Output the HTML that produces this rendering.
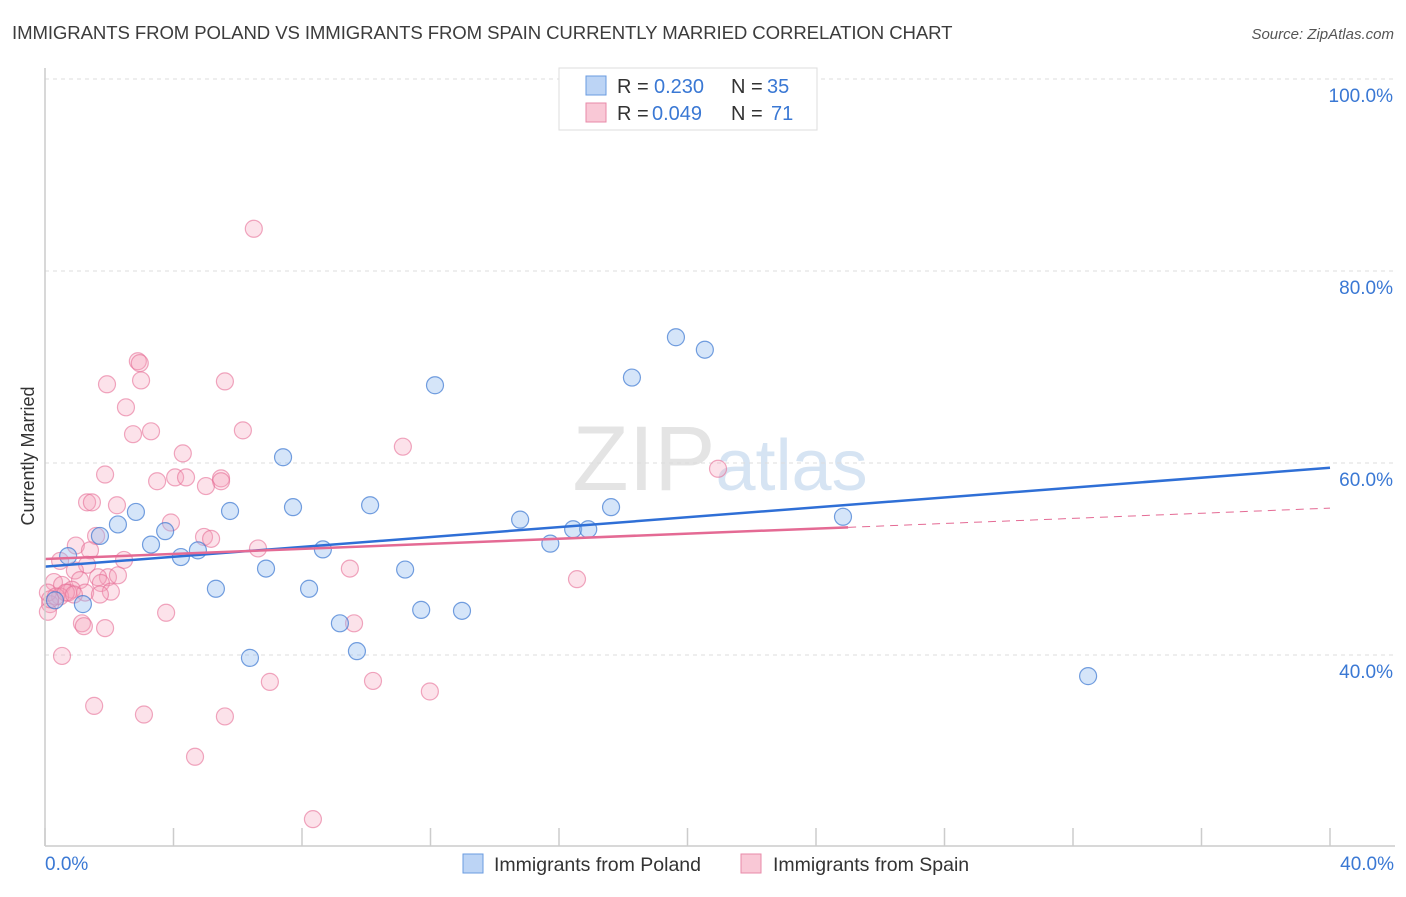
<!DOCTYPE html>
<html><head><meta charset="utf-8">
<style>
body{margin:0;background:#fff;font-family:"Liberation Sans",sans-serif;}
svg text{font-family:"Liberation Sans",sans-serif;}
</style></head>
<body>
<svg id="chart" width="1406" height="892" xmlns="http://www.w3.org/2000/svg">
<text x="12" y="39" font-size="18.6" fill="#3c3c3c" letter-spacing="-0.1">IMMIGRANTS FROM POLAND VS IMMIGRANTS FROM SPAIN CURRENTLY MARRIED CORRELATION CHART</text>
<text x="1394" y="39" font-size="15" fill="#555" text-anchor="end" font-style="italic">Source: ZipAtlas.com</text>
<text transform="translate(34,456) rotate(-90)" font-size="18" fill="#333" text-anchor="middle">Currently Married</text>
<text x="720" y="490" font-size="92" fill="#e4e4e4" text-anchor="middle" font-family="Liberation Serif">ZIP<tspan fill="#d6e4f3" font-family="Liberation Sans" font-size="72">atlas</tspan></text>
<g id="grid"></g>
<g id="marks"></g>
<line x1="45" y1="68" x2="45" y2="846" stroke="#ccc" stroke-width="1.5"/>
<line x1="45" y1="846" x2="1395" y2="846" stroke="#ccc" stroke-width="1.5"/>
<text x="45" y="870" font-size="19" fill="#3a78d4">0.0%</text>
<text x="1394" y="870" font-size="19" fill="#3a78d4" text-anchor="end">40.0%</text>
<g>
<rect x="559" y="68" width="258" height="62" fill="#fff" stroke="#ddd"/>
<rect x="586" y="76" width="20" height="19" fill="#bcd4f5" stroke="#6a9be0"/>
<rect x="586" y="103" width="20" height="19" fill="#f9c8d6" stroke="#e88aa8"/>
<text x="617" y="93" font-size="20" fill="#333">R =</text>
<text x="654" y="93" font-size="20" fill="#3a78d4">0.230</text>
<text x="731" y="93" font-size="20" fill="#333">N =</text>
<text x="767" y="93" font-size="20" fill="#3a78d4">35</text>
<text x="617" y="120" font-size="20" fill="#333">R =</text>
<text x="652" y="120" font-size="20" fill="#3a78d4">0.049</text>
<text x="731" y="120" font-size="20" fill="#333">N =</text>
<text x="771" y="120" font-size="20" fill="#3a78d4">71</text>
</g>
<g>
<rect x="463" y="854" width="20" height="19" fill="#bcd4f5" stroke="#6a9be0"/>
<text x="494" y="871" font-size="19.5" fill="#333">Immigrants from Poland</text>
<rect x="741" y="854" width="20" height="19" fill="#f9c8d6" stroke="#e88aa8"/>
<text x="773" y="871" font-size="19.5" fill="#333">Immigrants from Spain</text>
</g>
</svg>
<script>
const yTicks=[40,60,80,100];
const xTicks=[0,4,8,12,16,20,24,28,32,36,40];
const polandX=[0.72,1.71,2.27,2.83,3.3,3.74,4.23,4.76,5.32,5.76,6.38,6.88,7.41,7.72,8.22,8.65,9.18,9.71,10.12,11.21,11.71,12.14,12.98,14.79,15.73,16.44,16.91,17.62,18.27,19.64,20.54,24.84,32.47,1.18,0.31];
const polandY=[50.3,52.4,53.6,54.9,51.5,52.9,50.2,50.9,46.9,55.0,39.7,49.0,60.6,55.4,46.9,51.0,43.3,40.4,55.6,48.9,44.7,68.1,44.6,54.1,51.6,53.1,53.1,55.4,68.9,73.1,71.8,54.4,37.8,45.3,45.7];
const spainX=[6.5,2.89,2.95,1.93,2.99,5.6,2.52,3.3,2.74,6.16,11.14,4.29,1.87,20.95,3.49,4.05,4.39,5.48,5.48,5.01,1.31,1.46,2.24,3.92,1.59,4.95,5.17,0.96,1.4,6.63,2.46,0.47,1.31,0.93,9.49,1.96,1.65,2.27,1.09,1.74,16.56,0.28,0.53,0.84,1.25,0.72,2.05,1.71,0.47,0.16,0.09,3.77,1.15,1.21,1.87,9.62,0.53,1.53,3.08,5.6,7.0,10.21,11.98,4.67,8.34,0.09,0.34,0.65,0.9,0.16];
const spainY=[84.4,70.6,70.4,68.2,68.6,68.5,65.8,63.3,63.0,63.4,61.7,61.0,58.8,59.4,58.1,58.5,58.5,58.4,58.1,57.6,55.9,55.9,55.6,53.8,52.4,52.3,52.1,51.4,50.9,51.1,49.9,49.8,49.4,48.8,49.0,48.1,48.1,48.3,47.8,47.5,47.9,47.6,47.3,46.8,46.5,46.5,46.6,46.3,46.1,45.3,44.5,44.4,43.3,43.0,42.8,43.3,39.9,34.7,33.8,33.6,37.2,37.3,36.2,29.4,22.9,46.5,46.1,46.5,46.3,45.8];
const NS='http://www.w3.org/2000/svg';
const X0=45,X1=1330,Y0=1039,PY=9.6;
const sx=v=>X0+(X1-X0)*v/40;
const sy=v=>Y0-PY*v;
const grid=document.getElementById('grid'),marks=document.getElementById('marks');
function mk(tag,attrs,parent){const e=document.createElementNS(NS,tag);for(const k in attrs)e.setAttribute(k,attrs[k]);parent.appendChild(e);return e;}
yTicks.forEach(t=>{
 const l=mk('line',{x1:45,x2:1395,y1:sy(t),y2:sy(t),stroke:'#ddd','stroke-dasharray':'4,4'},grid);
 
 
 const tx=mk('text',{x:1393,y:sy(t)+23,'font-size':19,fill:'#3a78d4','text-anchor':'end'},grid);
 tx.textContent=t.toFixed(1)+'%';
 
 
});
xTicks.forEach(t=>{
 const l=mk('line',{x1:sx(t),x2:sx(t),y1:828,y2:846,stroke:'#ccc','stroke-width':1.5},grid);
 
 
});
spainX.forEach((v,i)=>{
 const c=mk('circle',{cx:sx(v),cy:sy(spainY[i]),r:8.5,fill:'rgba(245,160,185,0.3)',stroke:'rgba(230,110,150,0.6)','stroke-width':1.2},marks);
 
 
});
polandX.forEach((v,i)=>{
 const c=mk('circle',{cx:sx(v),cy:sy(polandY[i]),r:8.5,fill:'rgba(150,190,240,0.4)',stroke:'rgba(60,120,210,0.7)','stroke-width':1.2},marks);
 
 
});
const bl=mk('line',{x1:sx(0),y1:sy(49.2),x2:sx(40),y2:sy(59.5),stroke:'#2f6fd6','stroke-width':2.5},marks);


const pl=mk('line',{x1:sx(0),y1:sy(50.0),x2:sx(25),y2:sy(53.3),stroke:'#e46a94','stroke-width':2.5},marks);


const pd=mk('line',{x1:sx(25),y1:sy(53.3),x2:sx(40),y2:sy(55.3),stroke:'#e46a94','stroke-width':1,'stroke-dasharray':'8,6'},marks);


</script>
</body></html>
